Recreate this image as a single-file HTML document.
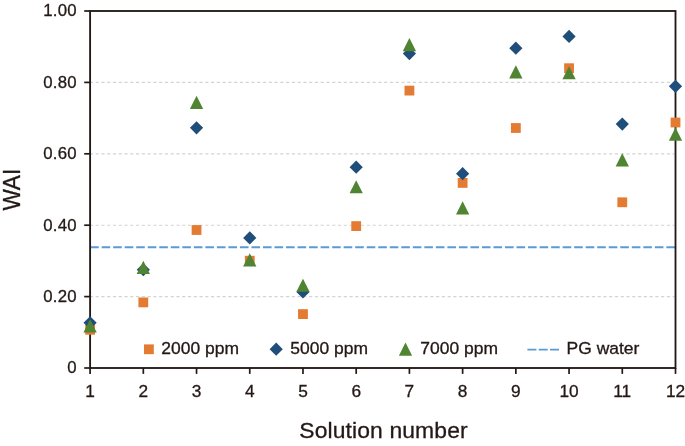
<!DOCTYPE html>
<html lang="en"><head><meta charset="utf-8"><title>WAI vs Solution number</title>
<style>html,body{margin:0;padding:0;background:#fff}body{width:685px;height:446px;overflow:hidden}svg{display:block;will-change:transform}text{font-family:"Liberation Sans",Arial,Helvetica,sans-serif;fill:#231815;stroke:#231815;stroke-width:0.3px}</style></head><body>
<svg width="685" height="446" viewBox="0 0 685 446">
<rect width="685" height="446" fill="#fff"/>
<line x1="89.83" y1="296.60" x2="674.50" y2="296.60" stroke="#D4D4D4" stroke-width="1.15" stroke-dasharray="3.2 2.57"/>
<line x1="89.83" y1="225.20" x2="674.50" y2="225.20" stroke="#D4D4D4" stroke-width="1.15" stroke-dasharray="3.2 2.57"/>
<line x1="89.83" y1="153.80" x2="674.50" y2="153.80" stroke="#D4D4D4" stroke-width="1.15" stroke-dasharray="3.2 2.57"/>
<line x1="89.83" y1="82.40" x2="674.50" y2="82.40" stroke="#D4D4D4" stroke-width="1.15" stroke-dasharray="3.2 2.57"/>
<line x1="90.10" y1="247.2" x2="675.50" y2="247.2" stroke="#5B9BD5" stroke-width="2" stroke-dasharray="8.62 2.905"/>
<g stroke="#231815" fill="none">
<rect x="90.10" y="11.00" width="585.40" height="357.00" stroke-width="1.85"/>
<line x1="84.2" y1="368.00" x2="90.10" y2="368.00" stroke-width="1.7"/>
<line x1="84.2" y1="296.60" x2="90.10" y2="296.60" stroke-width="1.7"/>
<line x1="84.2" y1="225.20" x2="90.10" y2="225.20" stroke-width="1.7"/>
<line x1="84.2" y1="153.80" x2="90.10" y2="153.80" stroke-width="1.7"/>
<line x1="84.2" y1="82.40" x2="90.10" y2="82.40" stroke-width="1.7"/>
<line x1="84.2" y1="11.00" x2="90.10" y2="11.00" stroke-width="1.7"/>
<line x1="90.10" y1="368.00" x2="90.10" y2="373.9" stroke-width="1.7"/>
<line x1="143.32" y1="368.00" x2="143.32" y2="373.9" stroke-width="1.7"/>
<line x1="196.54" y1="368.00" x2="196.54" y2="373.9" stroke-width="1.7"/>
<line x1="249.75" y1="368.00" x2="249.75" y2="373.9" stroke-width="1.7"/>
<line x1="302.97" y1="368.00" x2="302.97" y2="373.9" stroke-width="1.7"/>
<line x1="356.19" y1="368.00" x2="356.19" y2="373.9" stroke-width="1.7"/>
<line x1="409.41" y1="368.00" x2="409.41" y2="373.9" stroke-width="1.7"/>
<line x1="462.63" y1="368.00" x2="462.63" y2="373.9" stroke-width="1.7"/>
<line x1="515.85" y1="368.00" x2="515.85" y2="373.9" stroke-width="1.7"/>
<line x1="569.06" y1="368.00" x2="569.06" y2="373.9" stroke-width="1.7"/>
<line x1="622.28" y1="368.00" x2="622.28" y2="373.9" stroke-width="1.7"/>
<line x1="675.50" y1="368.00" x2="675.50" y2="373.9" stroke-width="1.7"/>
</g>
<g font-size="16.8" text-anchor="end" letter-spacing="0.2" stroke-width="0.4">
<text x="76.8" y="373.30">0</text>
<text x="76.8" y="301.90">0.20</text>
<text x="76.8" y="230.50">0.40</text>
<text x="76.8" y="159.10">0.60</text>
<text x="76.8" y="87.70">0.80</text>
<text x="76.8" y="16.30">1.00</text>
</g>
<g font-size="17.3" text-anchor="middle" stroke-width="0.4">
<text x="90.10" y="396.6">1</text>
<text x="143.32" y="396.6">2</text>
<text x="196.54" y="396.6">3</text>
<text x="249.75" y="396.6">4</text>
<text x="302.97" y="396.6">5</text>
<text x="356.19" y="396.6">6</text>
<text x="409.41" y="396.6">7</text>
<text x="462.63" y="396.6">8</text>
<text x="515.85" y="396.6">9</text>
<text x="569.06" y="396.6">10</text>
<text x="622.28" y="396.6">11</text>
<text x="675.50" y="396.6">12</text>
</g>
<text x="383.5" y="437.9" font-size="22.9" stroke-width="0.5" letter-spacing="0.12" text-anchor="middle">Solution number</text>
<text transform="translate(19.8 189.7) scale(1.09 1) rotate(-90)" font-size="22.6" stroke-width="0.4" text-anchor="middle">WAI</text>
<rect x="85.20" y="324.90" width="9.8" height="9.8" fill="#E37B32"/>
<rect x="138.42" y="297.50" width="9.8" height="9.8" fill="#E37B32"/>
<rect x="191.64" y="225.10" width="9.8" height="9.8" fill="#E37B32"/>
<rect x="244.85" y="255.80" width="9.8" height="9.8" fill="#E37B32"/>
<rect x="298.07" y="309.20" width="9.8" height="9.8" fill="#E37B32"/>
<rect x="351.29" y="221.20" width="9.8" height="9.8" fill="#E37B32"/>
<rect x="404.51" y="85.70" width="9.8" height="9.8" fill="#E37B32"/>
<rect x="457.73" y="178.00" width="9.8" height="9.8" fill="#E37B32"/>
<rect x="510.95" y="123.10" width="9.8" height="9.8" fill="#E37B32"/>
<rect x="564.16" y="63.30" width="9.8" height="9.8" fill="#E37B32"/>
<rect x="617.38" y="197.40" width="9.8" height="9.8" fill="#E37B32"/>
<rect x="670.60" y="117.60" width="9.8" height="9.8" fill="#E37B32"/>
<path d="M90.10 316.25L96.70 322.85L90.10 329.45L83.50 322.85Z" fill="#1F4E7A"/>
<path d="M143.32 263.15L149.92 269.75L143.32 276.35L136.72 269.75Z" fill="#1F4E7A"/>
<path d="M196.54 121.25L203.14 127.85L196.54 134.45L189.94 127.85Z" fill="#1F4E7A"/>
<path d="M249.75 231.35L256.35 237.95L249.75 244.55L243.15 237.95Z" fill="#1F4E7A"/>
<path d="M302.97 285.40L309.57 292.00L302.97 298.60L296.37 292.00Z" fill="#1F4E7A"/>
<path d="M356.19 160.55L362.79 167.15L356.19 173.75L349.59 167.15Z" fill="#1F4E7A"/>
<path d="M409.41 47.00L416.01 53.60L409.41 60.20L402.81 53.60Z" fill="#1F4E7A"/>
<path d="M462.63 167.05L469.23 173.65L462.63 180.25L456.03 173.65Z" fill="#1F4E7A"/>
<path d="M515.85 41.55L522.45 48.15L515.85 54.75L509.25 48.15Z" fill="#1F4E7A"/>
<path d="M569.06 29.85L575.66 36.45L569.06 43.05L562.46 36.45Z" fill="#1F4E7A"/>
<path d="M622.28 117.45L628.88 124.05L622.28 130.65L615.68 124.05Z" fill="#1F4E7A"/>
<path d="M675.50 79.75L682.10 86.35L675.50 92.95L668.90 86.35Z" fill="#1F4E7A"/>
<path d="M90.10 319.25L96.75 332.45L83.45 332.45Z" fill="#4F8433"/>
<path d="M143.32 260.75L149.97 273.95L136.67 273.95Z" fill="#4F8433"/>
<path d="M196.54 95.75L203.19 108.95L189.89 108.95Z" fill="#4F8433"/>
<path d="M249.75 253.25L256.40 266.45L243.10 266.45Z" fill="#4F8433"/>
<path d="M302.97 278.65L309.62 291.85L296.32 291.85Z" fill="#4F8433"/>
<path d="M356.19 180.15L362.84 193.35L349.54 193.35Z" fill="#4F8433"/>
<path d="M409.41 37.95L416.06 51.15L402.76 51.15Z" fill="#4F8433"/>
<path d="M462.63 201.25L469.28 214.45L455.98 214.45Z" fill="#4F8433"/>
<path d="M515.85 65.25L522.50 78.45L509.20 78.45Z" fill="#4F8433"/>
<path d="M569.06 66.15L575.71 79.35L562.41 79.35Z" fill="#4F8433"/>
<path d="M622.28 153.25L628.93 166.45L615.63 166.45Z" fill="#4F8433"/>
<path d="M675.50 127.55L682.15 140.75L668.85 140.75Z" fill="#4F8433"/>
<rect x="144.00" y="344.40" width="9.8" height="9.8" fill="#E37B32"/>
<text transform="translate(161.3 354.2) scale(1.085 1)" font-size="16.1">2000 ppm</text>
<path d="M276.20 342.60L282.80 349.20L276.20 355.80L269.60 349.20Z" fill="#1F4E7A"/>
<text transform="translate(290.3 354.2) scale(1.085 1)" font-size="16.1">5000 ppm</text>
<path d="M405.50 342.60L412.15 355.80L398.85 355.80Z" fill="#4F8433"/>
<text transform="translate(420.3 354.2) scale(1.085 1)" font-size="16.1">7000 ppm</text>
<line x1="527.4" y1="349.7" x2="559" y2="349.7" stroke="#5B9BD5" stroke-width="1.8" stroke-dasharray="9 2.3"/>
<text transform="translate(566.6 354.2) scale(1.085 1)" font-size="16.1">PG water</text>
</svg></body></html>
